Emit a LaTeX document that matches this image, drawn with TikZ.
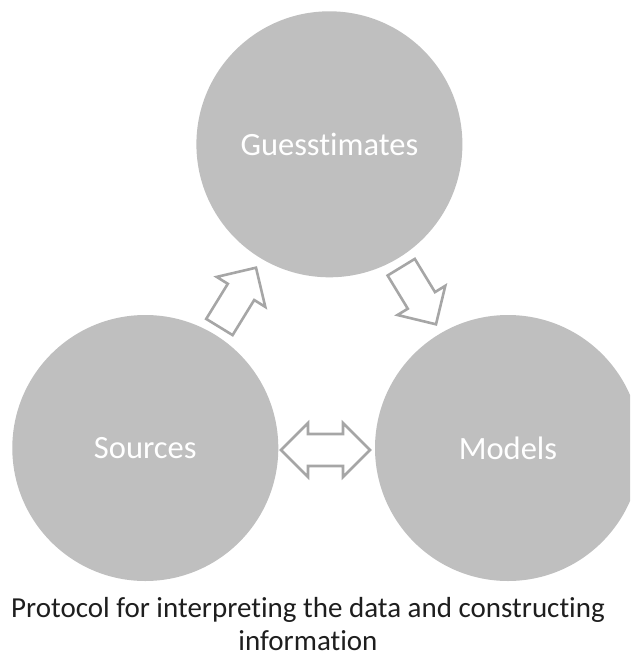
\documentclass[tikz,border=0pt]{standalone}
\usepackage{fontspec}
\setmainfont[Ligatures=CommonOff]{Carlito}
\definecolor{discgray}{HTML}{BFBFBF}
\definecolor{arrowgray}{HTML}{A6A6A6}
\definecolor{captiontext}{HTML}{1E1E1E}
\begin{document}
\begin{tikzpicture}[x=1pt,y=-1pt,
  disc/.style={circle, fill=discgray, minimum size=266pt, inner sep=0pt,
    text=white, font=\fontsize{32.5}{38}\selectfont},
  blockarrow/.style={draw=arrowgray, fill=white, line width=2.6pt, line join=miter},
  captionline/.style={anchor=base, inner sep=0pt, text=captiontext,
    font=\fontsize{29}{34}\selectfont}]
\useasboundingbox (0,0) rectangle (630,654);
\clip (0,0) rectangle (630,654);

% the three stages of the protocol
\node[disc] (guess) at (329.4,144.3) {Guesstimates};
\node[disc] (sources) at (145.3,448) {Sources};
\node[disc] (models) at (508,448) {Models};

% Sources -> Guesstimates
\draw[blockarrow] (206.2,318.9) -- (232.6,335.1) -- (254.2,300.0) -- (265.3,306.9)
  -- (256,267.7) -- (216.7,276.9) -- (227.8,283.8) -- cycle;

% Guesstimates -> Models
\draw[blockarrow] (387.6,275.5) -- (407.8,308.7) -- (397.5,315.0) -- (436,324.3)
  -- (445.3,285.8) -- (435.0,292.1) -- (414.8,258.9) -- cycle;

% Sources <-> Models
\draw[blockarrow] (281,450) -- (308,423) -- (308,434) -- (343,434) -- (343,423)
  -- (370,450) -- (343,477) -- (343,466) -- (308,466) -- (308,477) -- cycle;

% caption
\node[captionline] (cap1) at (308,617.3) {Protocol for interpreting the data and constructing};
\node[captionline] (cap2) at (308,650.7) {information};
\end{tikzpicture}
\end{document}
